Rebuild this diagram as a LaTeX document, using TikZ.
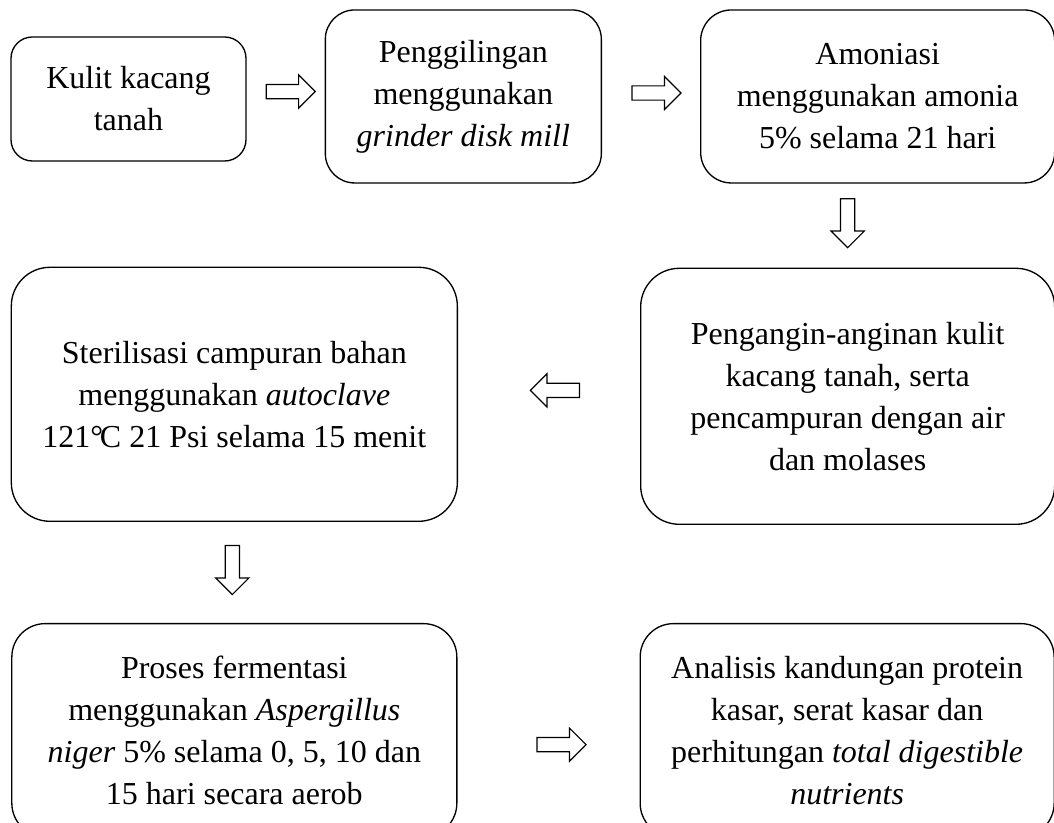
\documentclass[tikz,border=0pt]{standalone}
\usepackage{fontspec}
\setmainfont{Liberation Serif}
\usetikzlibrary{positioning,shapes.arrows}

\begin{document}
\begin{tikzpicture}[node distance=58.5pt, every node/.style={font=\fontsize{24pt}{31.5pt}\selectfont}, st/.style={draw, line width=1pt, align=center, inner sep=0pt}, barr/.style={single arrow, draw, line width=0.9pt, inner sep=4.9pt, minimum height=36.75pt, minimum width=24pt, single arrow head extend=7.1pt, single arrow tip angle=90, shape border rotate=#1}]
\useasboundingbox (-96.375pt,74.25pt) rectangle (694.125pt,-543pt);
\node[st, rounded corners=16pt, minimum width=176.25pt, minimum height=93pt] (kulit) {Kulit kacang\\tanah};
\node[st, rounded corners=22pt, minimum width=207pt, minimum height=129.75pt, right=of kulit, yshift=1.9pt] (giling) {Penggilingan\\menggunakan\\\textit{grinder disk mill}};
\node[st, rounded corners=23pt, minimum width=265.5pt, minimum height=129.75pt, right=73.5pt of giling] (amonia) {Amoniasi\\menggunakan amonia\\5\% selama 21 hari};
\node[st, rounded corners=29pt, minimum width=310.5pt, minimum height=192pt, below=63pt of amonia.south east, anchor=north east] (angin) {Pengangin-anginan kulit\\kacang tanah, serta\\pencampuran dengan air\\dan molases};
\node[st, rounded corners=29pt, minimum width=334.5pt, minimum height=190.5pt, left=136.5pt of angin, yshift=1.5pt] (steril) {Sterilisasi campuran bahan\\menggunakan \textit{autoclave}\\121\textdegree\kern-2.5pt C 21 Psi selama 15 menit};
\node[st, rounded corners=25pt, minimum width=333.75pt, minimum height=159.75pt, below=75.75pt of steril] (fermen) {Proses fermentasi\\menggunakan \textit{Aspergillus}\\\textit{niger} 5\% selama 0, 5, 10 dan\\15 hari secara aerob};
\node[st, rounded corners=25pt, minimum width=310.5pt, minimum height=159.75pt, right=136.5pt of fermen] (analisis) {Analisis kandungan protein\\kasar, serat kasar dan\\perhitungan \textit{total digestible}\\\textit{nutrients}};
% block arrows between the steps
\path (kulit) -- node[barr=0, xshift=1.1pt, yshift=4.7pt] (p1) {} (giling);
\path (giling) -- node[barr=0, xshift=1.5pt, yshift=2.6pt] (p2) {} (amonia);
\path (amonia.south -| angin) -- node[barr=270, yshift=4.5pt] (p3) {} (angin);
\path (angin) -- node[barr=180, xshift=7.1pt, yshift=3.75pt] (p4) {} (steril);
\path (steril) -- node[barr=270, xshift=-1.5pt, yshift=4.5pt] (p5) {} (fermen);
\path (fermen) -- node[barr=0, xshift=7.1pt, yshift=-10.9pt] (p6) {} (analisis);
\end{tikzpicture}
\end{document}
